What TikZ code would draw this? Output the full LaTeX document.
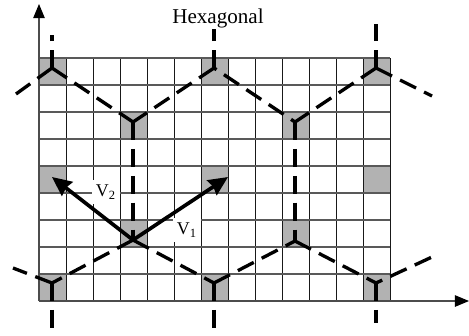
\documentclass[tikz,border=0pt]{standalone}
\usepackage{fontspec}
\setmainfont{Liberation Serif}
\usetikzlibrary{arrows.meta}

\begin{document}
\begin{tikzpicture}[
    x=0.02cm, y=-0.02cm,
    gridh/.style={draw=black!65, line width=0.7pt},
    gridv/.style={draw=black!90, line width=0.5pt},
    axis/.style={draw=black!70, line width=0.7pt, -{Stealth[length=8pt, width=6.5pt, inset=0pt, color=black]}},
    hexedge/.style={line width=1.9pt, black, dash pattern=on 10.2pt off 5.1pt, dash phase=#1pt},
    hexedge/.default=0,
    vec/.style={line width=2.1pt, -{Stealth[length=11pt, width=10pt, inset=1pt]}},
    vlabel/.style={fill=white, inner sep=2.5pt, font=\fontsize{10.2pt}{10pt}\selectfont}]
  \useasboundingbox (0,0) rectangle (469,335);
  %% Shaded cells
  \foreach \x/\y in {39/58,201/58,363/58,120/112,282/112,39/166,201/166,363/166,
                     120/220,282/220,39/274,201/274,363/274}
    \fill[black!30] (\x,\y) rectangle ++(27,27);
  %% Grid
  \foreach \x in {66,93,...,390}
    \draw[gridv] (\x,58) -- (\x,301);
  \foreach \y in {58,85,...,274}
    \draw[gridh] (39,\y) -- (390,\y);
  %% Axes
  \coordinate (origin) at (39,301);
  \coordinate (xtip) at (469,301);
  \coordinate (ytip) at (39,4);
  \draw[axis] (origin) -- (xtip);
  \draw[axis] (origin) -- (ytip);
  %% Lattice points
  \coordinate (a1) at (52,68);
  \coordinate (a2) at (214,68);
  \coordinate (a3) at (376,68);
  \coordinate (b1) at (133,122);
  \coordinate (b2) at (295,122);
  \coordinate (c1) at (133,240);
  \coordinate (c2) at (295,241);
  \coordinate (d1) at (52,283);
  \coordinate (d2) at (214,283);
  \coordinate (d3) at (376,283);
  %% Free ends
  \coordinate (a1up) at (52,35);
  \coordinate (a2up) at (214,29);
  \coordinate (a3up) at (376,24);
  \coordinate (a1out) at (16,94);
  \coordinate (a3out) at (432,96);
  \coordinate (d1out) at (13,268);
  \coordinate (d3out) at (432,257);
  \coordinate (d1dn) at (52,328);
  \coordinate (d2dn) at (214,328);
  \coordinate (d3dn) at (376,323);
  %% Lattice edges
  \foreach \a/\b in {a1/a1up,a2/a2up,a3/a3up,a1/a1out,a3/a3out,d1/d1out,
                     d1/d1dn,d2/d2dn,d3/d3dn,a1/b1,a3/b2,
                     b1/c1,b2/c2,c1/d1,c1/d2,d2/c2,c2/d3,a2/b1}
    \draw[hexedge] (\a) -- (\b);
  \draw[hexedge=8.5] (a2) -- (b2);
  \draw[hexedge=6.3] (d3) -- (d3out);
  %% Labels
  \node[vlabel] (v2lab) at (106,192) {V\textsubscript{2}};
  \node[vlabel] (v1lab) at (187,230) {V\textsubscript{1}};
  \node[font=\fontsize{12pt}{12pt}\selectfont, inner sep=0pt] (title) at (218,18) {Hexagonal};
  %% Vectors
  \coordinate (v1tip) at (228,177);
  \coordinate (v2tip) at (52,177);
  \draw[vec] (c1) -- (v1tip);
  \draw[vec] (c1) -- (v2tip);
\end{tikzpicture}
\end{document}
